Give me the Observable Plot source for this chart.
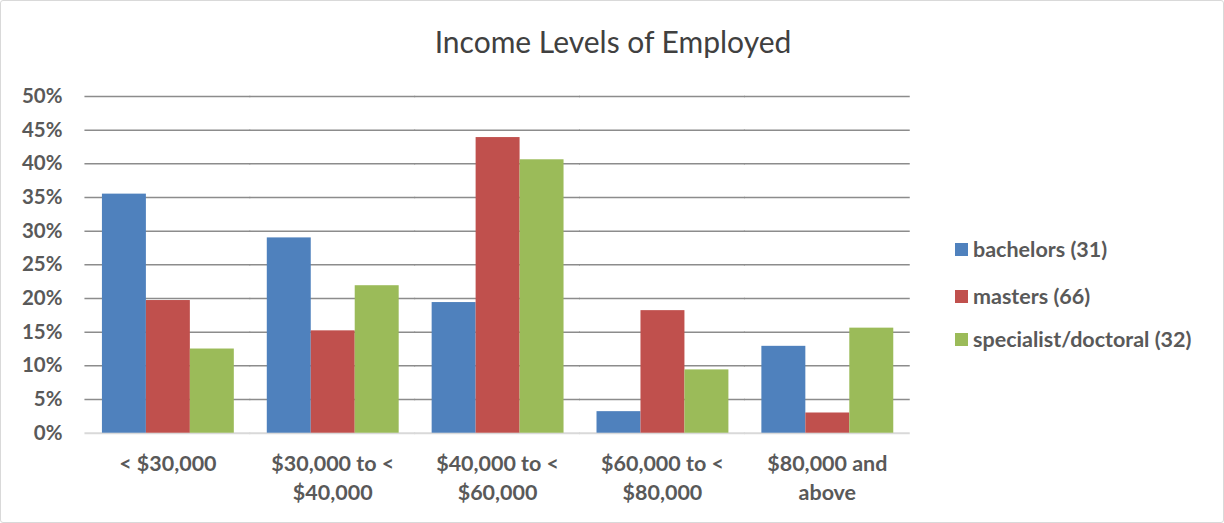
<!DOCTYPE html>
<html><head><meta charset="utf-8">
<script src="https://cdn.jsdelivr.net/npm/d3@7"></script>
<script src="https://cdn.jsdelivr.net/npm/@observablehq/plot@0.6"></script>
<style>
html,body{margin:0;padding:0;background:#fff;}
#wrap{position:relative;width:1222px;height:521px;border:1px solid #d9d9d9;border-radius:3px;overflow:hidden;font-family:Lato,"Open Sans",sans-serif;}
#title{position:absolute;left:0;top:22px;width:1224px;text-align:center;font-size:30px;color:#404040;}
#chart{position:absolute;left:-1px;top:74px;}
#legend{position:absolute;left:954px;top:0;}
.li{position:absolute;white-space:nowrap;font-size:21.5px;font-weight:bold;color:#595959;display:flex;align-items:center;}
.sw{width:13px;height:13px;margin-right:5px;display:inline-block;}
</style></head>
<body>
<div id="wrap">
<div id="title">Income Levels of Employed</div>
<div id="chart"></div>
<div id="legend"></div>
</div>
<script>
const categories = ["< $30,000", "$30,000 to <\n$40,000", "$40,000 to <\n$60,000", "$60,000 to <\n$80,000", "$80,000 and\nabove"];
const series = ["bachelors (31)", "masters (66)", "specialist/doctoral (32)"];
const bachelors = [0.355, 0.290, 0.194, 0.032, 0.129];
const masters = [0.197, 0.152, 0.439, 0.182, 0.030];
const specialist = [0.125, 0.219, 0.406, 0.094, 0.156];
const colors = ["#4F81BD", "#C0504D", "#9BBB59"];
const yTicks = [0, 0.05, 0.10, 0.15, 0.20, 0.25, 0.30, 0.35, 0.40, 0.45, 0.50];

const values = [bachelors, masters, specialist];
const data = [];
categories.forEach((c, i) => series.forEach((s, j) => data.push({cat: c, series: s, value: values[j][i]})));

const chart = Plot.plot({
  width: 1224,
  height: 449,
  marginLeft: 83,
  marginRight: 312,
  marginTop: 21,
  marginBottom: 91,
  style: {fontFamily: "Lato, 'Open Sans', sans-serif", fontSize: "21px", fontWeight: "bold", color: "#595959", background: "transparent"},
  fx: {domain: categories, padding: 0.193, paddingOuter: 0.096, label: null},
  x: {domain: series, padding: 0, axis: null},
  y: {domain: [0, 0.5], label: null},
  color: {domain: series, range: colors},
  marks: [
    Plot.ruleY(yTicks.filter(d => d > 0), {stroke: "#8c8c8c", strokeWidth: 1.5, insetLeft: -16.5, insetRight: -16.5}),
    Plot.ruleY([0], {stroke: "#d9d9d9", strokeWidth: 2, insetLeft: -16.5, insetRight: -16.5}),
    Plot.barY(data, {fx: "cat", x: "series", y: "value", fill: "series", inset: 0}),
    Plot.axisY({ticks: yTicks, tickFormat: d => Math.round(d * 100) + "%", tickSize: 0, tickPadding: 0, dx: -39, label: null, fontSize: 20.5, fontWeight: "bold"}),
    Plot.axisFx({anchor: "bottom", tickSize: 0, tickPadding: 0, dy: 17, label: null, fontSize: 21.5, fontWeight: "bold", lineHeight: 1.35})
  ]
});
document.getElementById("chart").appendChild(chart);

const legend = document.getElementById("legend");
const legendTops = [235, 282, 325];
series.forEach((s, j) => {
  const d = document.createElement("div");
  d.className = "li";
  d.style.top = legendTops[j] + "px";
  d.innerHTML = `<span class="sw" style="background:${colors[j]}"></span>`;
  d.appendChild(document.createTextNode(s));
  legend.appendChild(d);
});
</script>
</body></html>
